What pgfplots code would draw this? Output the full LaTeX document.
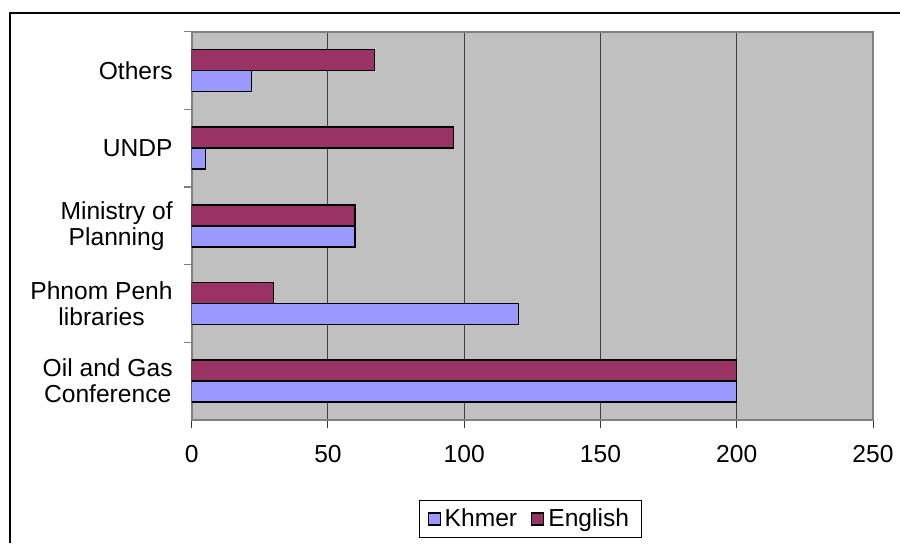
\documentclass[border=0pt]{standalone}
\usepackage{pgfplots}
\pgfplotsset{compat=1.18}
\usepackage{fontspec}
\setmainfont{Liberation Sans}
\definecolor{khmer}{HTML}{9999FF}
\definecolor{english}{HTML}{993366}
\definecolor{plotbg}{HTML}{C0C0C0}
\begin{document}
\begin{tikzpicture}
\useasboundingbox (0,0) rectangle (450pt,271.5pt);
\draw[line width=1pt] (4.75pt,0) -- (4.75pt,265pt) -- (450pt,265pt);
\begin{axis}[
  at={(95.85pt,61.5pt)}, anchor=south west,
  scale only axis, width=340.65pt, height=194.15pt,
  xmin=0, xmax=250, ymin=-0.5, ymax=4.5,
  axis background/.style={fill=plotbg},
  axis line style={draw=gray, line width=1pt},
  xtick={0,50,...,250},
  ytick={0,1,2,3,4},
  yticklabels={Oil and Gas\\Conference, Phnom Penh\\libraries, Ministry of\\Planning, UNDP, Others},
  minor ytick={0.5,1.5,2.5,3.5,4.5},
  xtick pos=bottom, ytick pos=left,
  tick align=outside,
  major tick length=4pt, minor tick length=4pt,
  major y tick style={draw=none},
  minor y tick style={draw=gray, line width=0.75pt},
  major x tick style={draw=black!80, line width=0.5pt},
  xmajorgrids=true,
  major grid style={draw=black!75, line width=0.5pt},
  /pgf/number format/assume math mode=true,
  every tick label/.append style={font=\fontsize{12.3}{12.3}\selectfont},
  xticklabel style={yshift=-5pt},
  yticklabel style={align=center, xshift=-2pt, font=\fontsize{12.3}{13}\selectfont},
  legend columns=2,
  legend style={at={(0.497,-0.206)}, anchor=north, draw=black, line width=0.5pt,
    font=\fontsize{12.3}{13}\selectfont, inner xsep=4pt, inner ysep=2pt,
    /tikz/every even column/.append style={column sep=5pt}},
]
\addplot[xbar, bar width=10.5pt, bar shift=-5.25pt, fill=khmer, draw=black, line width=0.75pt,
  legend image code/.code={\draw[fill=khmer, draw=black, line width=0.6pt] (0pt,-3pt) rectangle (6pt,3pt);}]
  coordinates {(200,0) (120,1) (60,2) (5,3) (22,4)};
\addlegendentry{Khmer}
\addplot[xbar, bar width=10.5pt, bar shift=5.25pt, fill=english, draw=black, line width=0.75pt,
  legend image code/.code={\draw[fill=english, draw=black, line width=0.6pt] (0pt,-3pt) rectangle (6pt,3pt);}]
  coordinates {(200,0) (30,1) (60,2) (96,3) (67,4)};
\addlegendentry{English}
\end{axis}
\end{tikzpicture}
\end{document}
